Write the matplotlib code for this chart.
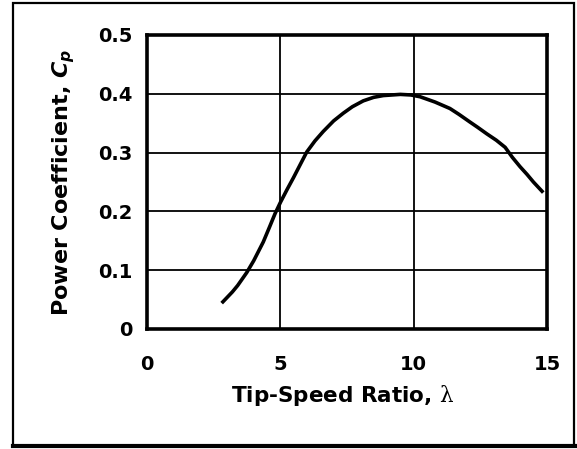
import matplotlib
matplotlib.use("Agg")
import matplotlib.pyplot as plt
from matplotlib.patches import Rectangle

plt.rcParams['font.family'] = ['DejaVu Sans']
plt.rcParams['mathtext.fontset'] = 'custom'
plt.rcParams['mathtext.rm'] = 'DejaVu Serif'
plt.rcParams['mathtext.bf'] = 'DejaVu Sans:bold'
plt.rcParams['mathtext.it'] = 'DejaVu Sans:italic'
plt.rcParams['mathtext.bfit'] = 'DejaVu Sans:bold:italic'

# curve
tsr = [2.8, 3.2, 3.4, 3.74, 4.0, 4.36, 4.6, 4.8, 5.01, 5.25, 5.5, 5.75,
       5.99, 6.3, 6.61, 7.0, 7.36, 7.7, 8.11, 8.5, 8.86, 9.5, 9.9, 10.24,
       10.8, 11.36, 11.7, 12.11, 12.4, 12.74, 13.1, 13.43, 13.7, 13.99,
       14.25, 14.49, 14.86]
cp = [0.044, 0.063, 0.074, 0.096, 0.116, 0.148, 0.174, 0.196, 0.216, 0.237,
      0.258, 0.280, 0.301, 0.320, 0.336, 0.354, 0.367, 0.378, 0.388, 0.394,
      0.397, 0.399, 0.398, 0.395, 0.386, 0.375, 0.365, 0.352, 0.343, 0.332,
      0.321, 0.309, 0.292, 0.276, 0.263, 0.250, 0.232]

x_ticks = [0, 5, 10, 15]
y_ticks = [0, 0.1, 0.2, 0.3, 0.4, 0.5]
y_tick_labels = ["0", "0.1", "0.2", "0.3", "0.4", "0.5"]

fig = plt.figure(figsize=(5.77, 4.49), dpi=100)
ax = fig.add_axes([147 / 577, 120 / 449, 400 / 577, 294 / 449])

ax.plot(tsr, cp, color='black', lw=2.6, solid_capstyle='butt',
        solid_joinstyle='round', zorder=3)

ax.set_xlim(0, 15)
ax.set_ylim(0, 0.5)
ax.set_xticks(x_ticks)
ax.set_yticks(y_ticks)
ax.set_yticklabels(y_tick_labels)
ax.grid(True, color='black', lw=1.3)
ax.tick_params(length=0, labelsize=14)
ax.tick_params(axis='x', pad=19)
ax.tick_params(axis='y', pad=10.5)
for lab in ax.get_xticklabels() + ax.get_yticklabels():
    lab.set_fontweight('bold')
for s in ax.spines.values():
    s.set_linewidth(2.6)

ax.set_xlabel("Tip-Speed Ratio, $\\mathrm{\\lambda}$", fontsize=15.5,
              fontweight='bold')
ax.set_ylabel("Power Coefficient, $\\mathbfit{C_p}$", fontsize=16,
              fontweight='bold')
ax.xaxis.set_label_coords(0.49, -0.182)
ax.yaxis.set_label_coords(-0.175, 0.5)

# outer frame
fig.add_artist(Rectangle((13 / 577, 3 / 449), 561 / 577, 443 / 449,
                         transform=fig.transFigure, fill=False,
                         edgecolor='black', lw=1.6))
fig.add_artist(plt.Line2D([13 / 577, 575 / 577], [3 / 449, 3 / 449],
                          transform=fig.transFigure, color='black', lw=3))

fig.savefig("out.png", dpi=100, facecolor='white')
